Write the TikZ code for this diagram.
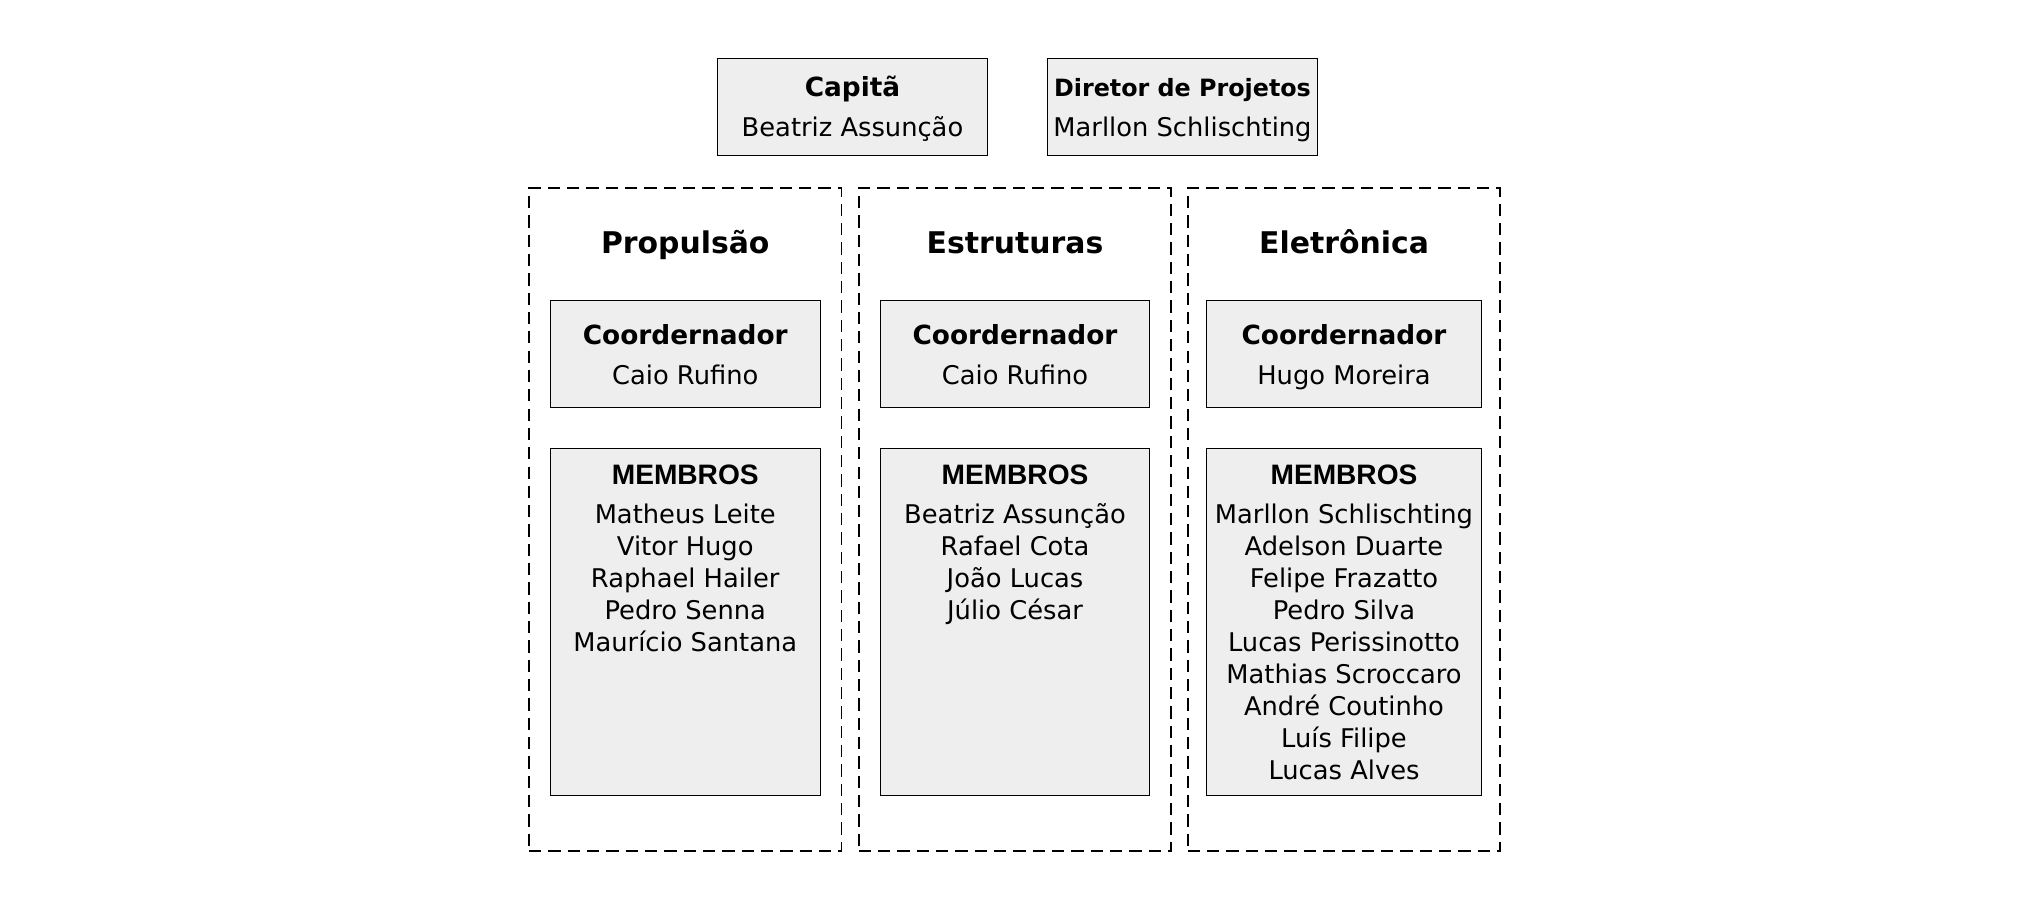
\documentclass[tikz,border=0pt]{standalone}
\usepackage{fontspec}
\setmainfont{DejaVu Sans}
\newfontfamily\membfont{Liberation Sans}
\usepackage{xcolor}
\usepackage{tikz}
\usetikzlibrary{positioning}
\definecolor{cardgray}{HTML}{EEEEEE}

\begin{document}
\begin{tikzpicture}[
    card/.style={rectangle, draw=black, line width=0.45pt, fill=cardgray, minimum width=#1, minimum height=1.95cm, inner sep=0pt},
    card/.default=5.41cm,
    team/.style={rectangle, draw=black, line width=1.1pt, dash pattern=on 7pt off 4pt, minimum width=6.25cm, minimum height=13.25cm, inner sep=0pt},
    head/.style={font=\fontsize{17}{20}\selectfont\bfseries, anchor=base, inner sep=0pt},
    role/.style={font=\fontsize{15}{17}\selectfont\bfseries, anchor=base, inner sep=0pt},
    who/.style={font=\fontsize{14.65}{17}\selectfont, anchor=base, inner sep=0pt},
    memb/.style={font=\membfont\fontsize{16}{19}\selectfont\bfseries, anchor=base, inner sep=0pt},
]
\useasboundingbox (0,0) rectangle (40.66,-18.04);

% Board
\node[card] (capt) at (17.05,-2.14) {};
\node[role] (capt-t) at (17.05,-1.92) {Capitã};
\node[who] (capt-n) at (17.05,-2.72) {Beatriz Assunção};
\node[card] (dir) at (23.65,-2.14) {};
\node[role, font=\fontsize{13.55}{16}\selectfont\bfseries] (dir-t) at (23.65,-1.92) {Diretor de Projetos};
\node[who] (dir-n) at (23.65,-2.72) {Marllon Schlischting};

% Teams
\foreach \id/\x/\w/\name/\coord in {
    prop/13.705/5.39cm/Propulsão/Caio Rufino,
    estr/20.30/5.39cm/Estruturas/Caio Rufino,
    elet/26.88/5.5cm/Eletrônica/Hugo Moreira%
} {
    \node[team] (\id) at (\x,-10.39) {};
    \node[head] (\id-t) at (\x,-5.07) {\name};
    \node[card=\w, minimum height=2.13cm] (\id-c) at (\x,-7.08) {};
    \node[role] (\id-ct) at (\x,-6.88) {Coordernador};
    \node[who] (\id-cn) at (\x,-7.68) {\coord};
    \node[card=\w, minimum height=6.93cm] (\id-m) at (\x,-12.44) {};
    \node[memb] (\id-mt) at (\x,-9.68) {MEMBROS};
}

% Members
\foreach \p [count=\i] in {Matheus Leite, Vitor Hugo, Raphael Hailer, Pedro Senna, Maurício Santana}
    \node[who] (prop-p\i) at (13.705,{-10.46-0.64*(\i-1)}) {\p};
\foreach \p [count=\i] in {Beatriz Assunção, Rafael Cota, João Lucas, Júlio César}
    \node[who] (estr-p\i) at (20.30,{-10.46-0.64*(\i-1)}) {\p};
\foreach \p [count=\i] in {Marllon Schlischting, Adelson Duarte, Felipe Frazatto, Pedro Silva, Lucas Perissinotto, Mathias Scroccaro, André Coutinho, Luís Filipe, Lucas Alves}
    \node[who] (elet-p\i) at (26.88,{-10.46-0.64*(\i-1)}) {\p};

\end{tikzpicture}
\end{document}
